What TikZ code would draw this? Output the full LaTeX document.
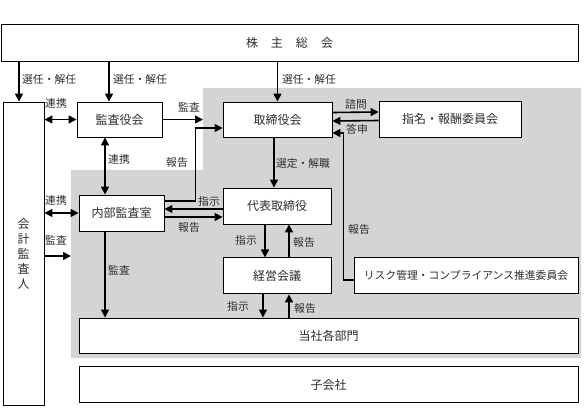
\documentclass[tikz,border=0pt]{standalone}
\usepackage{fontspec}
\setmainfont{Noto Sans CJK JP}
\usetikzlibrary{positioning, arrows.meta, calc}
\definecolor{areagray}{RGB}{212,212,212}
\definecolor{ink}{RGB}{45,45,45}
\tikzset{
  box/.style={
    draw,
    rectangle,
    line width=0.9pt,
    fill=white,
    inner sep=0pt,
    align=center,
    font=\fontsize{12}{14}\selectfont,
    text=ink
  },
  arr/.style={
    line width=1.6pt,
    -{Triangle[length=8pt,width=8pt]}
  },
  darr/.style={
    line width=1.6pt,
    {Triangle[length=8pt,width=8pt]}-{Triangle[length=8pt,width=8pt]}
  },
  lbl/.style={
    inner sep=0pt,
    font=\fontsize{10.8}{12}\selectfont,
    text=ink
  }
}

\begin{document}
\begin{tikzpicture}[x=1pt, y=-1pt]
    \useasboundingbox (0,0) rectangle (584,409);
    % gray area
    \fill[fill=areagray] (71,170) -- (203,170) -- (203,88) -- (581,88) -- (581,358) -- (71,358) -- cycle;
    \coordinate (grayN) at (203,88);
    \coordinate (kaudit) at (71,256);

    \node[box, minimum width=577pt, minimum height=37pt] (soukai) at (289.5,42.5) {株\hspace{13pt}主\hspace{13pt}総\hspace{13pt}会};
    \node[box, minimum width=41pt, minimum height=303pt, font=\fontsize{12}{15}\selectfont] (kaikei) at (23.5,253.5) {会\\計\\監\\査\\人};
    \node[box, minimum width=85pt, minimum height=35pt] (kansayaku) at (119.5,119.5) {監査役会};
    \node[box, minimum width=109pt, minimum height=35pt] (torishimari) at (277.5,119.5) {取締役会};
    \node[box, minimum width=142pt, minimum height=36pt] (shimei) at (450,119) {指名・報酬委員会};
    \node[box, minimum width=85pt, minimum height=36pt] (naibu) at (121.5,213) {内部監査室};
    \node[box, minimum width=108pt, minimum height=36pt] (daihyo) at (277,206) {代表取締役};
    \node[box, minimum width=108pt, minimum height=36pt, below=33pt of daihyo] (keiei) {経営会議};
    \node[box, minimum width=224pt, minimum height=36pt, font=\fontsize{10.8}{12}\selectfont] (risk) at (466,275) {リスク管理・コンプライアンス推進委員会};
    \node[box, minimum width=499pt, minimum height=35pt] (tousha) at (328.5,335.5) {当社各部門};
    \node[box, minimum width=499pt, minimum height=36pt, below=13pt of tousha] (kogaisha) {子会社};

    % helper points
    \coordinate (kk) at ([xshift=-4.5pt]kaikei.north);
    \coordinate (kt) at ([xshift=-10.5pt]kansayaku.north);
    \coordinate (auditx) at ([xshift=-14.5pt]kansayaku.south);
    \coordinate (d1) at ([yshift=-3pt]daihyo.west);
    \coordinate (d2) at ([yshift=-11pt]daihyo.west);
    \coordinate (k1) at ([xshift=-14pt]keiei.south);
    \coordinate (k2) at ([xshift=12pt]keiei.south);

    % shareholders
    \draw[arr] (kk |- soukai.south) -- (kk);
    \draw[arr] (kt |- soukai.south) -- (kt);
    \draw[arr] (soukai.south -| torishimari.north) -- (torishimari.north);

    % auditors
    \draw[darr] (kaikei.east |- kansayaku.west) -- (kansayaku.west);
    \draw[arr] (kansayaku.east) -- (kansayaku.east -| grayN);
    \draw[darr] (auditx) -- (auditx |- naibu.north);
    \draw[darr] (kaikei.east |- naibu.west) -- (naibu.west);
    \draw[arr] (kaudit -| kaikei.east) -- (kaudit);
    \draw[arr] (auditx |- naibu.south) -- (auditx |- tousha.north);
    \draw[arr] ([yshift=12pt]naibu.east) -- ++(31,0) |- ([yshift=-8.5pt]torishimari.west);

    % board
    \draw[arr] ([yshift=7pt]torishimari.east) -- ([yshift=7pt]shimei.west);
    \draw[arr] ([yshift=-1.5pt]shimei.west) -- ([yshift=-1.5pt]torishimari.east);
    \draw[arr] ([xshift=-3.5pt]torishimari.south) -- ([xshift=-3pt]daihyo.north);
    \draw[arr] ([yshift=-5pt]risk.west) -- ++(-10,0) |- ([yshift=-13.5pt]torishimari.east);

    % executive
    \draw[arr] (d1) -- (d1 -| naibu.east);
    \draw[arr] (d2 -| naibu.east) -- (d2);
    \draw[arr] ([xshift=-12pt]daihyo.south) -- ([xshift=-12pt]keiei.north);
    \draw[arr] ([xshift=12pt]keiei.north) -- ([xshift=12pt]daihyo.south);
    \draw[arr] (k1) -- (k1 |- tousha.north);
    \draw[arr] (k2 |- tousha.north) -- (k2);

    % labels
    \node[lbl, anchor=west] (sel1) at (22,79) {選任・解任};
    \node[lbl] (sel2) at (140,79) {選任・解任};
    \node[lbl] (sel3) at (309,79) {選任・解任};
    \node[lbl] (renkei1) at (56,103) {連携};
    \node[lbl] (kansa1) at (189,107) {監査};
    \node[lbl] (shimon) at (356,104) {諮問};
    \node[lbl] (toushin) at (357,129) {答申};
    \node[lbl] (renkei2) at (119,159) {連携};
    \node[lbl] (houkoku1) at (177,162) {報告};
    \node[lbl] (renkei3) at (56,200) {連携};
    \node[lbl] (kansa2) at (56,240) {監査};
    \node[lbl] (shiji1) at (209,201) {指示};
    \node[lbl] (houkoku2) at (189,227) {報告};
    \node[lbl] (sentei) at (303,163) {選定・解職};
    \node[lbl] (shiji2) at (246,240) {指示};
    \node[lbl] (houkoku3) at (304,242) {報告};
    \node[lbl] (houkoku4) at (359,229) {報告};
    \node[lbl] (kansa3) at (119,270) {監査};
    \node[lbl] (shiji3) at (238,306) {指示};
    \node[lbl] (houkoku5) at (305,308) {報告};
\end{tikzpicture}
\end{document}
